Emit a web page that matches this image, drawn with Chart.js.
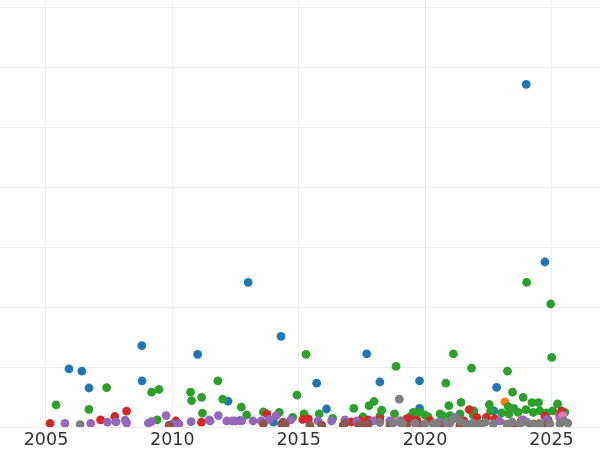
<!DOCTYPE html>
<html>
<head>
<meta charset="utf-8">
<script src="https://cdn.jsdelivr.net/npm/chart.js@4"></script>
<style>
  html, body { margin: 0; padding: 0; background: #fff; }
  #wrap { width: 600px; height: 450px; }
</style>
</head>
<body>
<div id="wrap"><canvas id="chart"></canvas></div>
<script>
// [year, value] pairs per series
const blue = [[2024.00, 57.1], [2024.74, 27.5], [2013.00, 24.1], [2008.79, 13.55], [2014.30, 15.1],
  [2011.00, 12.1], [2017.69, 12.2], [2005.91, 9.7], [2006.42, 9.3], [2006.70, 6.5], [2008.80, 7.7],
  [2015.71, 7.3], [2018.21, 7.5], [2019.78, 7.7], [2022.83, 6.6], [2012.20, 4.3], [2016.10, 3.0],
  [2019.78, 3.1], [2022.72, 2.7], [2012.67, 1.05], [2014.0, 0.8], [2021.0, 1.0]];
const orange = [[2023.16, 4.2], [2024.5, 0.6]];
const green = [[2024.02, 24.1], [2024.97, 20.5], [2025.01, 11.6], [2015.29, 12.1], [2021.12, 12.2],
  [2018.85, 10.1], [2021.84, 9.8], [2023.26, 9.3], [2020.82, 7.3], [2011.80, 7.7], [2007.40, 6.55],
  [2009.18, 5.8], [2009.47, 6.25], [2005.40, 3.7], [2006.70, 2.95], [2010.72, 5.8], [2010.76, 4.4],
  [2011.16, 4.95], [2011.99, 4.65], [2012.73, 3.3], [2012.94, 2.0], [2011.19, 2.3], [2009.40, 1.2],
  [2014.93, 5.3], [2017.18, 3.1], [2017.78, 3.55], [2017.98, 4.25], [2018.28, 2.8], [2014.23, 2.45],
  [2015.21, 2.2], [2015.81, 2.2], [2018.79, 2.2], [2013.60, 2.5], [2014.76, 1.6], [2016.34, 1.45],
  [2017.54, 1.7], [2018.21, 1.8], [2019.40, 1.7], [2019.60, 2.2], [2019.80, 2.45], [2019.99, 2.0],
  [2020.12, 1.7], [2020.69, 1.9], [2020.94, 3.55], [2020.98, 1.9], [2021.42, 4.1], [2021.38, 2.2],
  [2021.93, 2.7], [2021.90, 2.0], [2022.54, 3.75], [2022.59, 2.7], [2023.03, 2.35], [2023.29, 3.4],
  [2023.46, 5.8], [2023.88, 4.95], [2023.51, 3.1], [2023.68, 2.45], [2023.99, 2.9], [2024.23, 4.05],
  [2024.49, 4.05], [2024.28, 2.45], [2024.54, 2.7], [2024.81, 2.35], [2025.05, 2.7], [2025.24, 3.85],
  [2025.53, 2.45], [2019.53, 2.45], [2020.59, 2.2], [2023.32, 2.2]];
const red = [[2005.16, 0.6], [2007.16, 1.2], [2007.72, 1.75], [2008.19, 2.65], [2010.14, 1.0],
  [2011.15, 0.8], [2013.74, 2.2], [2015.16, 1.25], [2017.09, 0.85], [2017.42, 1.05], [2017.75, 1.2],
  [2018.21, 1.35], [2019.27, 1.35], [2019.40, 1.35], [2019.67, 1.15], [2020.19, 1.05], [2021.75, 2.9],
  [2022.04, 1.6], [2022.43, 1.6], [2022.76, 1.35], [2024.74, 1.8], [2024.87, 1.15], [2025.40, 2.7],
  [2025.33, 1.9], [2015.38, 1.35], [2021.54, 1.0], [2023.8, 1.0], [2018.8, 0.9]];
const purple = [[2005.75, 0.6], [2006.77, 0.6], [2007.43, 0.8], [2007.77, 0.85], [2008.13, 1.15],
  [2008.19, 0.65], [2009.18, 0.9], [2009.75, 1.9], [2010.02, 0.5], [2010.26, 0.5], [2010.74, 0.9],
  [2011.49, 1.0], [2011.82, 1.9], [2012.15, 1.0], [2012.36, 1.0], [2012.74, 1.0], [2013.19, 1.0],
  [2013.51, 1.0], [2013.83, 1.25], [2014.10, 1.85], [2014.68, 1.2], [2015.76, 1.0], [2016.30, 1.0],
  [2016.83, 1.2], [2017.29, 1.0], [2017.95, 1.0], [2021.18, 1.6], [2023.88, 1.2], [2024.82, 1.25],
  [2025.33, 1.5], [2009.05, 0.65], [2011.46, 1.2], [2012.48, 1.0], [2018.6, 1.0], [2019.0, 0.8],
  [2020.58, 0.8], [2022.95, 1.0]];
const brown = [[2009.87, 0.3], [2013.60, 0.5], [2014.32, 0.5], [2014.46, 0.4], [2015.44, 0.3],
  [2015.91, 0.3], [2016.76, 0.3], [2016.83, 0.65], [2017.38, 0.3], [2017.75, 0.5], [2017.49, 0.3],
  [2018.61, 0.3], [2019.27, 0.3], [2019.67, 0.3], [2019.93, 0.3], [2020.59, 0.3], [2023.55, 0.3],
  [2024.21, 0.3], [2024.81, 0.3], [2014.38, 0.8], [2021.38, 0.3], [2022.17, 0.3]];
const pink = [[2018.87, 0.9], [2025.45, 1.9]];
const gray = [[2006.35, 0.4], [2018.98, 4.65], [2018.21, 0.75], [2018.72, 0.65], [2019.03, 1.05],
  [2019.11, 0.5], [2020.32, 0.5], [2020.47, 0.65], [2020.85, 0.65], [2020.98, 0.65], [2021.11, 1.35],
  [2021.38, 1.0], [2021.64, 0.5], [2021.89, 0.65], [2022.17, 0.5], [2022.70, 0.5], [2023.23, 0.5],
  [2023.75, 0.5], [2024.28, 0.5], [2024.54, 0.5], [2024.94, 0.5], [2025.33, 0.5], [2025.49, 1.0],
  [2025.65, 0.65], [2022.37, 0.8], [2024.03, 0.8], [2019.6, 0.65], [2019.99, 0.5], [2023.44, 0.8]];

const xTicks = [2005, 2010, 2015, 2020, 2025];
const yTicks = [0, 10, 20, 30, 40, 50, 60, 70];

const seriesList = [
  { data: blue, colour: '#1f77b4' },
  { data: orange, colour: '#ff7f0e' },
  { data: green, colour: '#2ca02c' },
  { data: red, colour: '#d62728' },
  { data: purple, colour: '#9467bd' },
  { data: brown, colour: '#8c564b' },
  { data: pink, colour: '#e377c2' },
  { data: gray, colour: '#7f7f7f' },
];

// later series sit on top, like the reference
const datasets = seriesList.map((s, i) => ({
  data: s.data.map(p => ({ x: p[0], y: p[1] })),
  backgroundColor: s.colour,
  borderWidth: 0,
  pointRadius: 4.4,
  pointHoverRadius: 4.4,
  order: -i,
  clip: 0,
}));

const ctx = document.getElementById('chart').getContext('2d');
new Chart(ctx, {
  type: 'scatter',
  data: { datasets: datasets },
  options: {
    responsive: true,
    maintainAspectRatio: false,
    animation: false,
    // negative bottom padding pushes the year labels a bit lower
    layout: { padding: { top: 0, left: 0, right: 0, bottom: -4 }, autoPadding: false },
    plugins: { legend: { display: false }, tooltip: { enabled: false } },
    scales: {
      x: {
        type: 'linear',
        min: 2003.18,
        max: 2026.92,
        afterBuildTicks: (axis) => { axis.ticks = xTicks.map(v => ({ value: v })); },
        grid: { color: '#ebebeb', lineWidth: 1, drawTicks: false },
        border: { display: false },
        ticks: {
          padding: 2,
          color: '#333',
          font: { family: 'DejaVu Sans', size: 17.5, lineHeight: 1.314 },
          callback: (v) => String(v),
        },
      },
      y: {
        min: 0,
        max: 71.17,
        afterBuildTicks: (axis) => { axis.ticks = yTicks.map(v => ({ value: v })); },
        grid: { color: '#ebebeb', lineWidth: 1, drawTicks: false },
        border: { display: false },
        ticks: { display: false },
      },
    },
  },
});
</script>
</body>
</html>
